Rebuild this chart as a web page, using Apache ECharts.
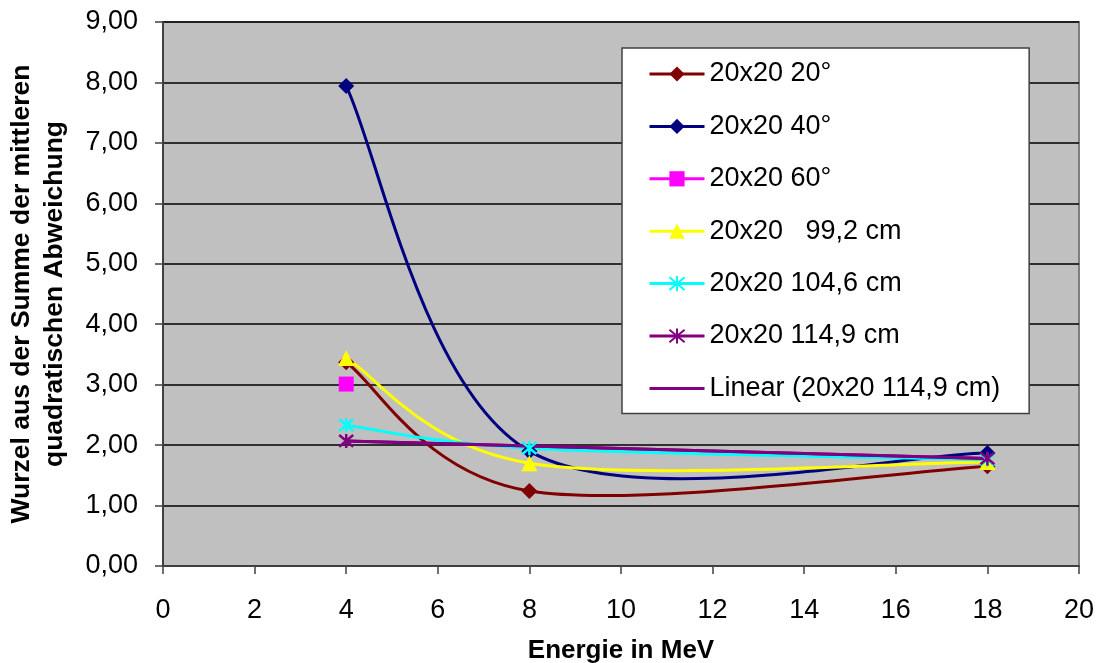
<!DOCTYPE html>
<html>
<head>
<meta charset="utf-8">
<script src="https://cdn.jsdelivr.net/npm/echarts@6/dist/echarts.min.js"></script>
<style>
  html, body { margin: 0; padding: 0; background: #ffffff; }
  #chart { width: 1100px; height: 663px; }
</style>
</head>
<body>
<div id="chart"></div>
<script>
// Beam energies (MeV) at which each field setting was measured
const energies = [4, 8, 18];
const energies114 = [4, 18];

// Root of summed mean squared deviation per setting
const s20deg   = [3.37, 1.24, 1.65];
const s40deg   = [7.94, 1.90, 1.87];
const s60deg   = [3.01];
const s99cm    = [3.44, 1.70, 1.72];
const s104cm   = [2.33, 1.95, 1.76];
const s114cm   = [2.07, 1.78];

const seriesNames = [
  '20x20 20°',
  '20x20 40°',
  '20x20 60°',
  '20x20   99,2 cm',
  '20x20 104,6 cm',
  '20x20 114,9 cm',
  'Linear (20x20 114,9 cm)'
];

const xTickLabels = ['0', '2', '4', '6', '8', '10', '12', '14', '16', '18', '20'];
const yTickLabels = ['0,00', '1,00', '2,00', '3,00', '4,00', '5,00', '6,00', '7,00', '8,00', '9,00'];

const FONT = "'Liberation Sans', Arial, sans-serif";

function pairs(xs, ys) {
  return ys.map((y, i) => [xs[i], y]);
}

// Least-squares straight line through a series, drawn over its x range
function linearFit(xs, ys) {
  const n = ys.length;
  const mx = xs.slice(0, n).reduce((a, b) => a + b, 0) / n;
  const my = ys.reduce((a, b) => a + b, 0) / n;
  let sxy = 0, sxx = 0;
  for (let i = 0; i < n; i++) {
    sxy += (xs[i] - mx) * (ys[i] - my);
    sxx += (xs[i] - mx) * (xs[i] - mx);
  }
  const k = sxy / sxx;
  const x0 = xs[0], x1 = xs[n - 1];
  return [[x0, my + k * (x0 - mx)], [x1, my + k * (x1 - mx)]];
}

// Asterisk marker: X plus a vertical stroke
const ASTERISK = 'path://M0,0L10,10M10,0L0,10M5,-1L5,11';

// Markers only; the connecting curve is drawn by smoothCurve below
function markers(name, data, color, symbol, size) {
  const isStar = symbol === ASTERISK;
  return {
    name: name,
    type: 'line',
    data: data,
    symbol: symbol,
    symbolSize: size,
    showAllSymbol: true,
    lineStyle: { color: color, width: 0 },
    itemStyle: isStar
      ? { color: color, borderColor: color, borderWidth: 2.5 }
      : { color: color, borderWidth: 0 },
    emphasis: { disabled: true },
    z: 4
  };
}

// Cardinal (Catmull-Rom style) spline through the points, one Bezier piece per gap,
// with control points placed in pixel space from the neighbouring points
function smoothCurve(xs, ys, color) {
  const pts = pairs(xs, ys);
  return {
    type: 'custom',
    coordinateSystem: 'cartesian2d',
    data: pts.slice(0, -1),
    encode: { x: 0, y: 1 },
    silent: true,
    clip: true,
    z: 3,
    renderItem: function (params, api) {
      const i = params.dataIndex;
      const P = pts.map(p => api.coord(p));
      const n = P.length;
      const p0 = P[Math.max(i - 1, 0)];
      const p1 = P[i];
      const p2 = P[i + 1];
      const p3 = P[Math.min(i + 2, n - 1)];
      return {
        type: 'bezierCurve',
        shape: {
          x1: p1[0], y1: p1[1],
          cpx1: p1[0] + (p2[0] - p0[0]) / 6,
          cpy1: p1[1] + (p2[1] - p0[1]) / 6,
          cpx2: p2[0] - (p3[0] - p1[0]) / 6,
          cpy2: p2[1] - (p3[1] - p1[1]) / 6,
          x2: p2[0], y2: p2[1]
        },
        style: { stroke: color, lineWidth: 3, fill: 'none', lineJoin: 'round', lineCap: 'round' }
      };
    }
  };
}

const chart = echarts.init(document.getElementById('chart'), null, { renderer: 'canvas' });

chart.setOption({
  animation: false,
  backgroundColor: '#ffffff',
  textStyle: { fontFamily: FONT },
  grid: {
    left: 163, right: 21, top: 22, bottom: 97,
    outerBoundsMode: 'none',
    containLabel: false,
    show: true,
    backgroundColor: '#C0C0C0',
    borderColor: '#808080',
    borderWidth: 2
  },
  legend: {
    orient: 'vertical',
    left: 622,
    top: 48,
    padding: [11, 29, 10, 26],
    backgroundColor: '#ffffff',
    borderColor: '#404040',
    borderWidth: 1.5,
    borderRadius: 0,
    itemWidth: 55,
    itemHeight: 19,
    itemGap: 22.4,
    selectedMode: false,
    lineStyle: { width: 3 },
    textStyle: { fontFamily: FONT, fontSize: 27, color: '#000', lineHeight: 30 },
    data: seriesNames.map((n, i) => i === 6
      ? { name: n, icon: 'path://M0,0L55,0L55,3L0,3Z' }
      : { name: n })
  },
  xAxis: {
    type: 'value',
    min: 0, max: 20, interval: 2,
    name: 'Energie in MeV',
    nameLocation: 'middle',
    nameGap: 72,
    nameTextStyle: { fontFamily: FONT, fontSize: 26, fontWeight: 'bold', color: '#000' },
    axisLine: { show: true, onZero: false, lineStyle: { color: '#404040', width: 2 } },
    axisTick: { show: true, inside: false, length: 8, lineStyle: { color: '#404040', width: 1.5 } },
    axisLabel: {
      margin: 31, fontFamily: FONT, fontSize: 27, color: '#000',
      formatter: v => xTickLabels[Math.round(v / 2)]
    },
    splitLine: { show: false }
  },
  yAxis: {
    type: 'value',
    min: 0, max: 9, interval: 1,
    name: 'Wurzel aus der Summe der mittleren\nquadratischen Abweichung',
    nameLocation: 'middle',
    nameGap: 92,
    nameRotate: 90,
    nameTextStyle: { fontFamily: FONT, fontSize: 26.5, fontWeight: 'bold', color: '#000', lineHeight: 33, align: 'center' },
    axisLine: { show: true, onZero: false, lineStyle: { color: '#404040', width: 2 } },
    axisTick: { show: true, inside: false, length: 8, lineStyle: { color: '#404040', width: 1.5 } },
    axisLabel: {
      margin: 25, fontFamily: FONT, fontSize: 27, color: '#000',
      formatter: v => yTickLabels[Math.round(v)]
    },
    splitLine: { show: true, lineStyle: { color: '#000000', width: 1.5 } }
  },
  series: [
    markers(seriesNames[0], pairs(energies, s20deg), '#800000', 'diamond', 16),
    markers(seriesNames[1], pairs(energies, s40deg), '#000080', 'diamond', 16),
    markers(seriesNames[2], pairs(energies, s60deg), '#FF00FF', 'rect', 15),
    markers(seriesNames[3], pairs(energies, s99cm), '#FFFF00', 'triangle', 16),
    markers(seriesNames[4], pairs(energies, s104cm), '#00FFFF', ASTERISK, 14),
    markers(seriesNames[5], pairs(energies114, s114cm), '#800080', ASTERISK, 14),
    {
      name: seriesNames[6],
      type: 'line',
      data: linearFit(energies114, s114cm),
      symbol: 'none',
      lineStyle: { color: '#800080', width: 3 },
      itemStyle: { color: '#800080' },
      emphasis: { disabled: true },
      z: 3
    },
    smoothCurve(energies, s20deg, '#800000'),
    smoothCurve(energies, s40deg, '#000080'),
    smoothCurve(energies, s99cm, '#FFFF00'),
    smoothCurve(energies, s104cm, '#00FFFF'),
    smoothCurve(energies114, s114cm, '#800080')
  ]
});
</script>
</body>
</html>
